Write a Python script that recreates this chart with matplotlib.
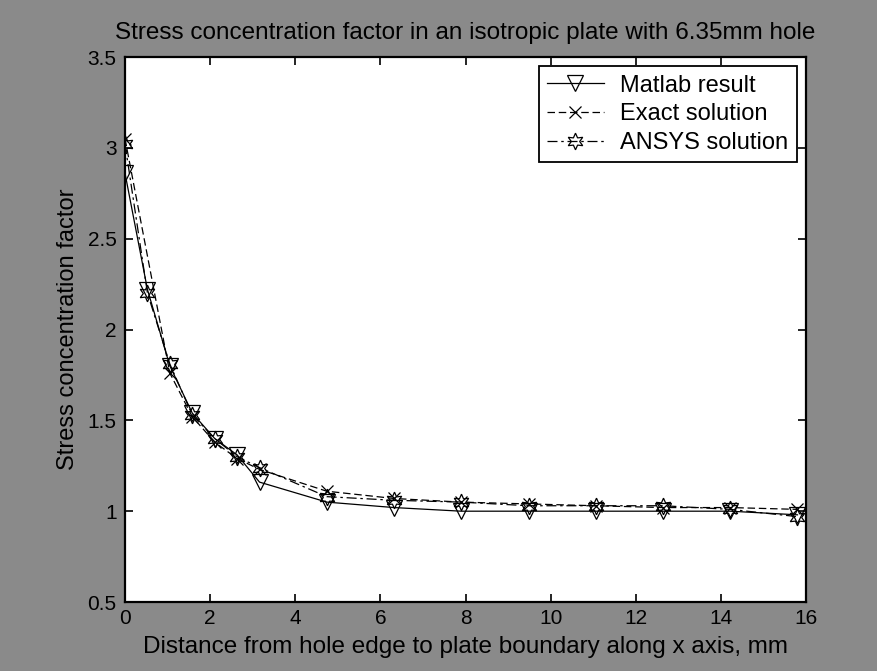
import matplotlib
matplotlib.use("Agg")
import matplotlib.pyplot as plt

plt.rcParams['font.family'] = ['Liberation Sans', 'DejaVu Sans']

# data
x_matlab = [0, 0.527, 1.053, 1.58, 2.107, 2.633, 3.16, 4.74, 6.32, 7.9, 9.48, 11.06, 12.64, 14.22, 15.8]
y_matlab = [2.86, 2.22, 1.80, 1.54, 1.40, 1.31, 1.16, 1.05, 1.02, 1.00, 1.00, 1.00, 1.00, 1.00, 0.98]

x_exact = [0, 1.053, 1.58, 2.107, 2.633, 3.16, 4.74, 6.32, 7.9, 9.48, 11.06, 12.64, 14.22, 15.8]
y_exact = [3.05, 1.76, 1.52, 1.38, 1.29, 1.23, 1.11, 1.07, 1.05, 1.04, 1.03, 1.02, 1.02, 1.01]

x_ansys = [0, 0.527, 1.053, 1.58, 2.107, 2.633, 3.16, 4.74, 6.32, 7.9, 9.48, 11.06, 12.64, 14.22, 15.8]
y_ansys = [3.02, 2.20, 1.81, 1.53, 1.40, 1.30, 1.24, 1.08, 1.06, 1.05, 1.03, 1.03, 1.03, 1.01, 0.97]

labels = ["Matlab result", "Exact solution", "ANSYS solution"]
xticks = [0, 2, 4, 6, 8, 10, 12, 14, 16]
yticks = [0.5, 1, 1.5, 2, 2.5, 3, 3.5]
ytick_labels = ["0.5", "1", "1.5", "2", "2.5", "3", "3.5"]

title = "Stress concentration factor in an isotropic plate with 6.35mm hole"
xlabel = "Distance from hole edge to plate boundary along x axis, mm"
ylabel = "Stress concentration factor"

fig = plt.figure(figsize=(8.78, 6.71), dpi=100, facecolor='#8a8a8a')
ax = fig.add_axes([0.1424, 0.1028, 0.7756, 0.8122])
ax.set_facecolor('white')

ax.plot(x_matlab, y_matlab, color='black', linestyle='-', linewidth=0.9,
        marker='v', markersize=12, markerfacecolor='none', markeredgecolor='black',
        markeredgewidth=0.9, label=labels[0])
ax.plot(x_exact, y_exact, color='black', linestyle=(0, (6, 3)), linewidth=0.9,
        marker='x', markersize=9, markeredgewidth=0.9, label=labels[1])
ax.plot(x_ansys, y_ansys, color='black', linestyle=(0, (8, 3, 2, 3)), linewidth=0.9,
        marker=(6, 1, 0), markersize=12, markerfacecolor='none', markeredgecolor='black',
        markeredgewidth=0.9, label=labels[2])

ax.set_xlim(0, 16)
ax.set_ylim(0.5, 3.5)
ax.set_xticks(xticks)
ax.set_xticklabels([str(t) for t in xticks])
ax.set_yticks(yticks)
ax.set_yticklabels(ytick_labels)
ax.tick_params(direction='in', length=6, width=1.2, top=True, right=True,
               labelsize=15, colors='black')
ax.tick_params(axis='x', pad=5)
ax.tick_params(axis='y', pad=6)
for s in ax.spines.values():
    s.set_linewidth(1.6)
    s.set_color('black')

ax.set_title(title, fontsize=17.5, pad=13)
ax.set_xlabel(xlabel, fontsize=17.5, labelpad=6)
ax.set_ylabel(ylabel, fontsize=17)
ax.yaxis.set_label_coords(-0.068, 0.5)

leg = ax.legend(loc='upper right', fontsize=17, frameon=True, fancybox=False,
                framealpha=1, edgecolor='black', borderaxespad=0.4,
                handlelength=2.4, handletextpad=0.7, labelspacing=0.28,
                borderpad=0.35)
leg.get_frame().set_linewidth(1.3)

fig.savefig("out.png", dpi=100, facecolor=fig.get_facecolor())
